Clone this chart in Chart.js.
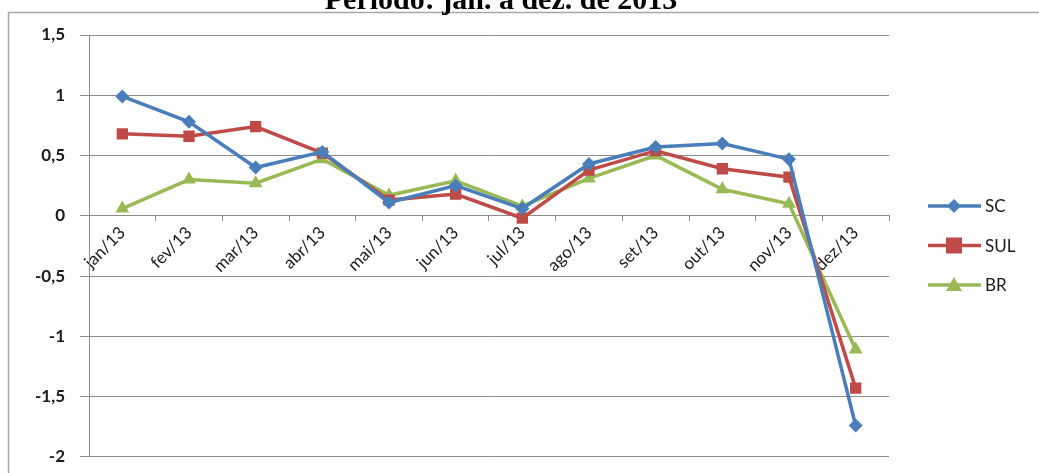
<!DOCTYPE html>
<html>
<head>
<meta charset="utf-8">
<script src="https://cdn.jsdelivr.net/npm/chart.js@4/dist/chart.umd.min.js"></script>
<style>
  html, body { margin: 0; padding: 0; background: #fff; overflow: hidden; }
  #tela { width: 1039px; height: 473px; overflow: hidden; }
  #wrap { position: relative; width: 1039px; height: 482px; }
</style>
</head>
<body>
<div id="tela"><div id="wrap"><canvas id="chart_var"></canvas></div></div>
<script>
var meses = ["jan/13", "fev/13", "mar/13", "abr/13", "mai/13", "jun/13", "jul/13", "ago/13", "set/13", "out/13", "nov/13", "dez/13"];
var valoresSC = [0.99, 0.78, 0.40, 0.53, 0.11, 0.25, 0.06, 0.43, 0.57, 0.60, 0.47, -1.74];
var valoresSUL = [0.68, 0.66, 0.74, 0.52, 0.13, 0.18, -0.02, 0.38, 0.54, 0.39, 0.32, -1.43];
var valoresBR = [0.06, 0.30, 0.27, 0.47, 0.17, 0.29, 0.08, 0.31, 0.50, 0.22, 0.10, -1.11];
var titulo = "Período: jan. a dez. de 2013";

var corSC = "#4a7ebb", corSUL = "#be4b48", corBR = "#98b954";

// desenha o marcador do jeito do excel
const marcador = (ctx, estilo, x, y, cor) => {
  ctx.fillStyle = cor;
  ctx.beginPath();
  if (estilo === 'rectRot') {
    ctx.moveTo(x, y - 7); ctx.lineTo(x + 7, y); ctx.lineTo(x, y + 7); ctx.lineTo(x - 7, y);
  } else if (estilo === 'rect') {
    ctx.rect(x - 8, y - 8, 16, 16);
  } else {
    ctx.moveTo(x, y - 8); ctx.lineTo(x + 8, y + 6); ctx.lineTo(x - 8, y + 6);
  }
  ctx.closePath();
  ctx.fill();
};

const moldura = {
  id: 'moldura',
  beforeDraw: (chart) => {
    var ctx = chart.ctx;
    ctx.save();
    ctx.strokeStyle = '#a6a6a6';
    ctx.lineWidth = 1.5;
    ctx.strokeRect(8.5, 12.5, 1200, 600);
    ctx.fillStyle = '#000';
    ctx.font = 'bold 30px "Liberation Serif"';
    ctx.textAlign = 'center';
    ctx.textBaseline = 'alphabetic';
    ctx.fillText(titulo, 501, 9);
    ctx.restore();
  },
  afterDraw: (chart) => {
    var ctx = chart.ctx;
    ctx.save();
    chart.data.datasets.forEach((ds, i) => {
      var y = 206 + 39.5 * i;
      ctx.strokeStyle = ds.borderColor;
      ctx.lineWidth = 3.5;
      ctx.beginPath();
      ctx.moveTo(928, y); ctx.lineTo(981, y);
      ctx.stroke();
      marcador(ctx, ds.pointStyle, 954, y, ds.borderColor);
      ctx.fillStyle = '#1a1a1a';
      ctx.font = '17px Lato';
      ctx.textAlign = 'left';
      ctx.textBaseline = 'middle';
      ctx.fillText(ds.label, 985, y + 1);
    });
    ctx.restore();
  }
};

const serie = (nome, dados, cor, estilo, raio) => ({
  label: nome,
  data: dados,
  borderColor: cor,
  backgroundColor: cor,
  borderWidth: 3.5,
  pointStyle: estilo,
  pointRadius: raio,
  pointHoverRadius: raio,
  pointBorderWidth: 0,
  tension: 0
});

var ctx = document.getElementById("chart_var").getContext("2d");
var grafico = new Chart(ctx, {
  type: "line",
  data: {
    labels: meses,
    datasets: [
      serie("SC", valoresSC, corSC, 'rectRot', 7),
      serie("SUL", valoresSUL, corSUL, 'rect', 8),
      serie("BR", valoresBR, corBR, 'triangle', 8)
    ]
  },
  options: {
    responsive: true,
    maintainAspectRatio: false,
    animation: false,
    layout: { padding: { left: 8, top: 35, right: 150, bottom: 10 } },
    plugins: {
      legend: { display: false },
      title: { display: false },
      tooltip: { enabled: false }
    },
    scales: {
      x: {
        position: { y: 0 },
        offset: true,
        grid: {
          offset: true,
          drawOnChartArea: false,
          color: '#8c8c8c',
          tickLength: 5
        },
        border: { color: '#8c8c8c', width: 1 },
        ticks: {
          minRotation: 45,
          maxRotation: 45,
          padding: 2,
          color: '#1a1a1a',
          font: { family: 'Lato', size: 17 }
        }
      },
      y: {
        min: -2,
        max: 1.5,
        afterFit: (scale) => { scale.width = 81; },
        grid: { color: '#8c8c8c', tickLength: 9 },
        border: { color: '#8c8c8c' },
        ticks: {
          stepSize: 0.5,
          padding: 15,
          color: '#1a1a1a',
          font: { family: 'Lato', size: 17, weight: 'bold' },
          callback: (v) => String(v).replace('.', ',')
        }
      }
    }
  },
  plugins: [moldura]
});
</script>
</body>
</html>
